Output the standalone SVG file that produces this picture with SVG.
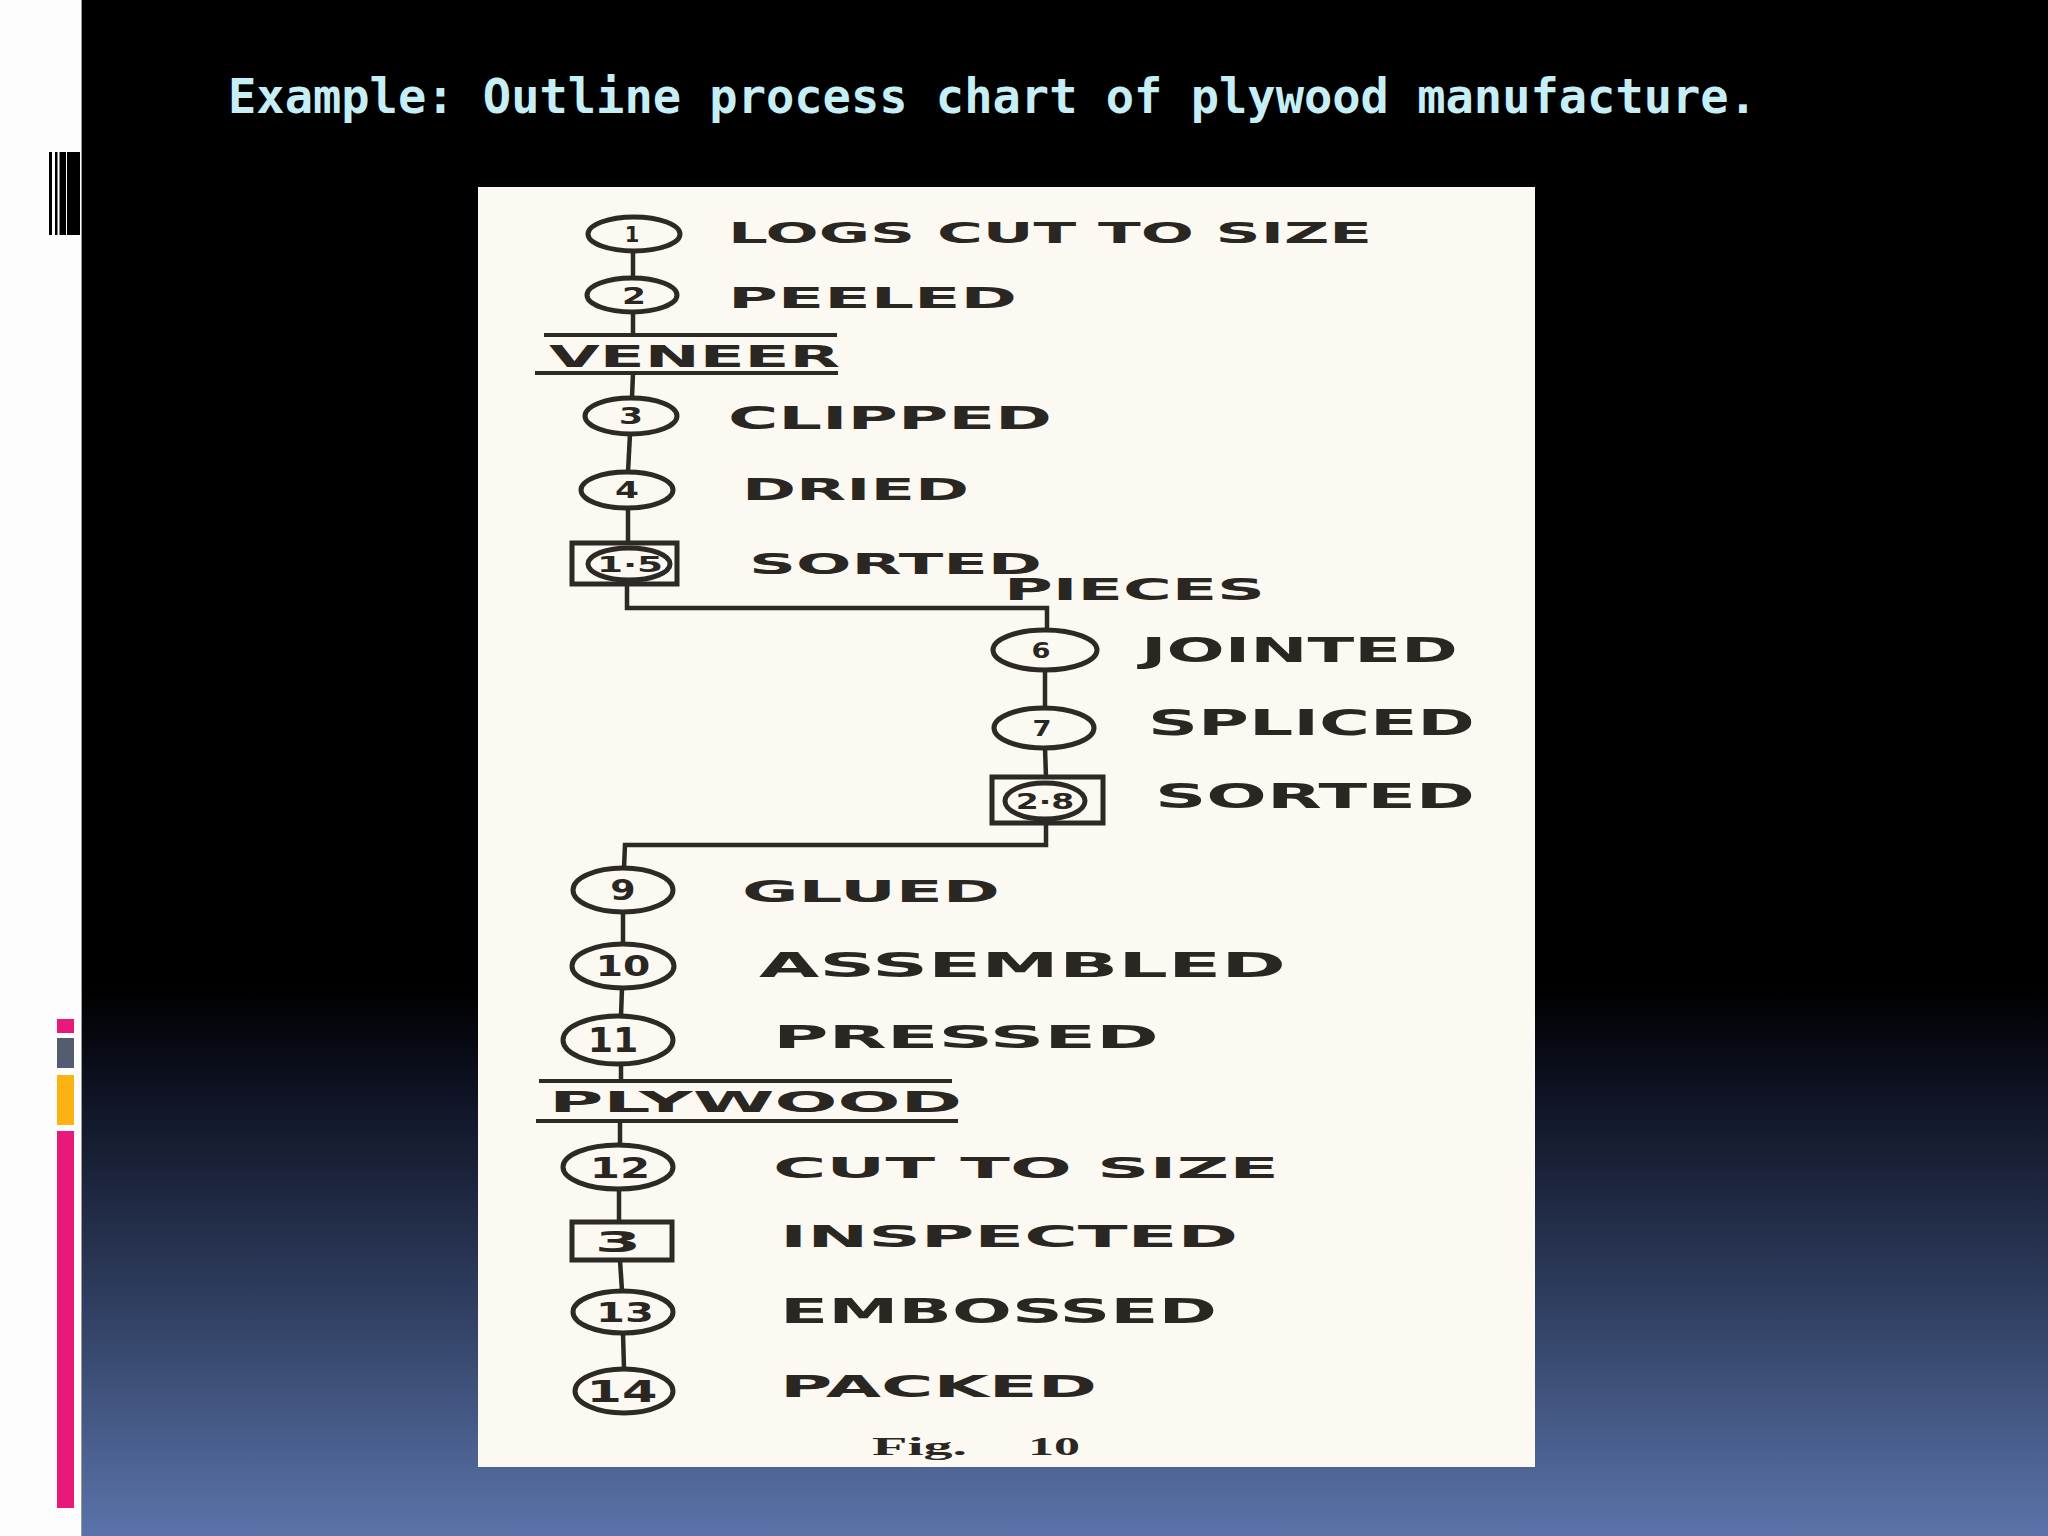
<svg xmlns="http://www.w3.org/2000/svg" width="2048" height="1536" viewBox="0 0 2048 1536">
<defs>
<linearGradient id="bg" x1="0" y1="990" x2="0" y2="1536" gradientUnits="userSpaceOnUse">
<stop offset="0" stop-color="#000000"/>
<stop offset="0.18" stop-color="#0e1222"/>
<stop offset="0.55" stop-color="#2d3b5c"/>
<stop offset="1" stop-color="#5a74aa"/>
</linearGradient>
<style>
.lbl{font-family:"DejaVu Sans","Liberation Sans",sans-serif;font-weight:bold;fill:#2a2622}
.num{font-family:"DejaVu Sans","Liberation Sans",sans-serif;font-weight:bold;fill:#2a2622;text-anchor:middle}
.sym{fill:#fbf9f2;stroke:#2d2925;stroke-width:5}
.con{fill:none;stroke:#2d2925;stroke-width:4.5}
.mat{fill:none;stroke:#2d2925;stroke-width:4}
</style>
</defs>
<!-- slide background -->
<rect x="0" y="0" width="2048" height="1536" fill="url(#bg)"/>
<rect x="0" y="0" width="82" height="1536" fill="#fdfdfd"/>
<line x1="81.5" y1="0" x2="81.5" y2="1536" stroke="#9a9a9a" stroke-width="1"/>
<g id="barcode" fill="#000">
<rect x="49" y="152" width="3" height="83"/>
<rect x="55" y="152" width="2.5" height="83"/>
<rect x="59.5" y="152" width="6.5" height="83"/>
<rect x="67" y="152" width="13" height="83"/>
</g>
<g id="colorbars">
<rect x="57" y="1019" width="17" height="14" fill="#e8197a"/>
<rect x="57" y="1038" width="17" height="30" fill="#555c70"/>
<rect x="57" y="1075" width="17" height="50" fill="#fbb314"/>
<rect x="57" y="1131" width="17" height="377" fill="#e8197a"/>
</g>
<text x="228" y="113" font-family="'DejaVu Sans Mono','Liberation Mono',monospace" font-weight="bold" font-size="48" fill="#c6eef6" textLength="1529" lengthAdjust="spacingAndGlyphs">Example: Outline process chart of plywood manufacture.</text>
<!-- chart paper -->
<rect x="478" y="187" width="1057" height="1280" fill="#fbf9f2"/>
<g id="connectors">
<path class="con" d="M633 252 L633 277"/>
<path class="con" d="M633 313 L633 335"/>
<path class="con" d="M633 373 L632 398"/>
<path class="con" d="M630 434 L628 472"/>
<path class="con" d="M628 508 L628 543"/>
<path class="con" d="M627 584 L627 608 L1047 608 L1047 630"/>
<path class="con" d="M1045 670 L1045 708"/>
<path class="con" d="M1045 748 L1046 777"/>
<path class="con" d="M1046 823 L1046 845 L625 845 L624 868"/>
<path class="con" d="M623 912 L623 944"/>
<path class="con" d="M622 988 L621 1016"/>
<path class="con" d="M621 1064 L621 1082"/>
<path class="con" d="M620 1120 L620 1145"/>
<path class="con" d="M619 1189 L619 1222"/>
<path class="con" d="M620 1260 L622 1291"/>
<path class="con" d="M623 1333 L624 1369"/>
</g>
<g id="n1">
<ellipse class="sym" cx="634" cy="234" rx="46" ry="17"/>
<text class="num" font-size="21" transform="translate(632,242)">1</text>
<text class="lbl" x="728" y="243" font-size="28" textLength="644" lengthAdjust="spacingAndGlyphs">LOGS CUT TO SIZE</text>
</g>
<g id="n2">
<ellipse class="sym" cx="632" cy="295" rx="45" ry="17"/>
<text class="num" font-size="23" transform="translate(634,304) scale(1.5,1)">2</text>
<text class="lbl" x="728" y="308" font-size="29" textLength="289" lengthAdjust="spacingAndGlyphs">PEELED</text>
</g>
<g id="veneer">
<line class="mat" x1="544" y1="335" x2="837" y2="335"/>
<line class="mat" x1="535" y1="373" x2="838" y2="373"/>
<text class="lbl" x="549" y="367" font-size="30" textLength="291" lengthAdjust="spacingAndGlyphs">VENEER</text>
</g>
<g id="n3">
<ellipse class="sym" cx="631" cy="416" rx="46" ry="18"/>
<text class="num" font-size="23" transform="translate(631,424) scale(1.5,1)">3</text>
<text class="lbl" x="728" y="429" font-size="32" textLength="324" lengthAdjust="spacingAndGlyphs">CLIPPED</text>
</g>
<g id="n4">
<ellipse class="sym" cx="627" cy="490" rx="46" ry="18"/>
<text class="num" font-size="23" transform="translate(627,498) scale(1.5,1)">4</text>
<text class="lbl" x="742" y="500" font-size="30" textLength="227" lengthAdjust="spacingAndGlyphs">DRIED</text>
</g>
<g id="n5">
<rect class="sym" x="572" y="543" width="105" height="41"/>
<ellipse class="sym" cx="629" cy="564" rx="41" ry="16" stroke-width="4"/>
<text class="num" font-size="22" transform="translate(630,572) scale(1.7,1)">1·5</text>
<text class="lbl" x="749" y="574" font-size="28" textLength="293" lengthAdjust="spacingAndGlyphs">SORTED</text>
<text class="lbl" x="1004" y="600" font-size="30" textLength="261" lengthAdjust="spacingAndGlyphs">PIECES</text>
</g>
<g id="n6">
<ellipse class="sym" cx="1045" cy="650" rx="52" ry="20"/>
<text class="num" font-size="21" transform="translate(1041,658) scale(1.3,1)">6</text>
<text class="lbl" x="1141" y="662" font-size="34" textLength="317" lengthAdjust="spacingAndGlyphs">JOINTED</text>
</g>
<g id="n7">
<ellipse class="sym" cx="1044" cy="728" rx="50" ry="20"/>
<text class="num" font-size="21" transform="translate(1042,736) scale(1.3,1)">7</text>
<text class="lbl" x="1148" y="735" font-size="35" textLength="327" lengthAdjust="spacingAndGlyphs">SPLICED</text>
</g>
<g id="n8">
<rect class="sym" x="992" y="777" width="111" height="46"/>
<ellipse class="sym" cx="1045" cy="801" rx="40" ry="18" stroke-width="4"/>
<text class="num" font-size="22" transform="translate(1045,809) scale(1.5,1)">2·8</text>
<text class="lbl" x="1155" y="808" font-size="34" textLength="320" lengthAdjust="spacingAndGlyphs">SORTED</text>
</g>
<g id="n9">
<ellipse class="sym" cx="623" cy="890" rx="50" ry="22"/>
<text class="num" font-size="28" transform="translate(623,900) scale(1.3,1)">9</text>
<text class="lbl" x="742" y="902" font-size="30" textLength="258" lengthAdjust="spacingAndGlyphs">GLUED</text>
</g>
<g id="n10">
<ellipse class="sym" cx="623" cy="966" rx="51" ry="22"/>
<text class="num" font-size="29" transform="translate(623,976) scale(1.35,1)">10</text>
<text class="lbl" x="759" y="977" font-size="33" textLength="527" lengthAdjust="spacingAndGlyphs">ASSEMBLED</text>
</g>
<g id="n11">
<ellipse class="sym" cx="618" cy="1040" rx="55" ry="24"/>
<text class="num" font-size="33" transform="translate(613,1052) scale(1.1,1)">11</text>
<text class="lbl" x="773" y="1048" font-size="32" textLength="386" lengthAdjust="spacingAndGlyphs">PRESSED</text>
</g>
<g id="plywood">
<line class="mat" x1="539" y1="1081" x2="952" y2="1081"/>
<line class="mat" x1="536" y1="1121" x2="958" y2="1121"/>
<text class="lbl" x="549" y="1112" font-size="28" textLength="413" lengthAdjust="spacingAndGlyphs">PLYWOOD</text>
</g>
<g id="n12">
<ellipse class="sym" cx="618" cy="1167" rx="55" ry="22"/>
<text class="num" font-size="29" transform="translate(620,1178) scale(1.5,1)">12</text>
<text class="lbl" x="773" y="1178" font-size="29" textLength="506" lengthAdjust="spacingAndGlyphs">CUT TO SIZE</text>
</g>
<g id="n13i">
<rect class="sym" x="572" y="1222" width="100" height="38" stroke-width="4.5"/>
<text class="num" font-size="29" font-weight="normal" transform="translate(618,1252) scale(2.3,1)">3</text>
<text class="lbl" x="780" y="1247" font-size="30" textLength="458" lengthAdjust="spacingAndGlyphs">INSPECTED</text>
</g>
<g id="n13">
<ellipse class="sym" cx="623" cy="1312" rx="50" ry="21"/>
<text class="num" font-size="26" transform="translate(625,1322) scale(1.6,1)">13</text>
<text class="lbl" x="780" y="1323" font-size="33" textLength="437" lengthAdjust="spacingAndGlyphs">EMBOSSED</text>
</g>
<g id="n14">
<ellipse class="sym" cx="624" cy="1391" rx="49" ry="22"/>
<text class="num" font-size="30" transform="translate(622,1402) scale(1.7,1)">14</text>
<text class="lbl" x="780" y="1397" font-size="30" textLength="317" lengthAdjust="spacingAndGlyphs">PACKED</text>
</g>
<g id="caption" font-family="'Liberation Serif','DejaVu Serif',serif" font-weight="bold" font-size="26" fill="#2a2622">
<text x="872" y="1455" textLength="95" lengthAdjust="spacingAndGlyphs">Fig.</text>
<text x="1028" y="1455" textLength="52" lengthAdjust="spacingAndGlyphs">10</text>
</g>
</svg>
